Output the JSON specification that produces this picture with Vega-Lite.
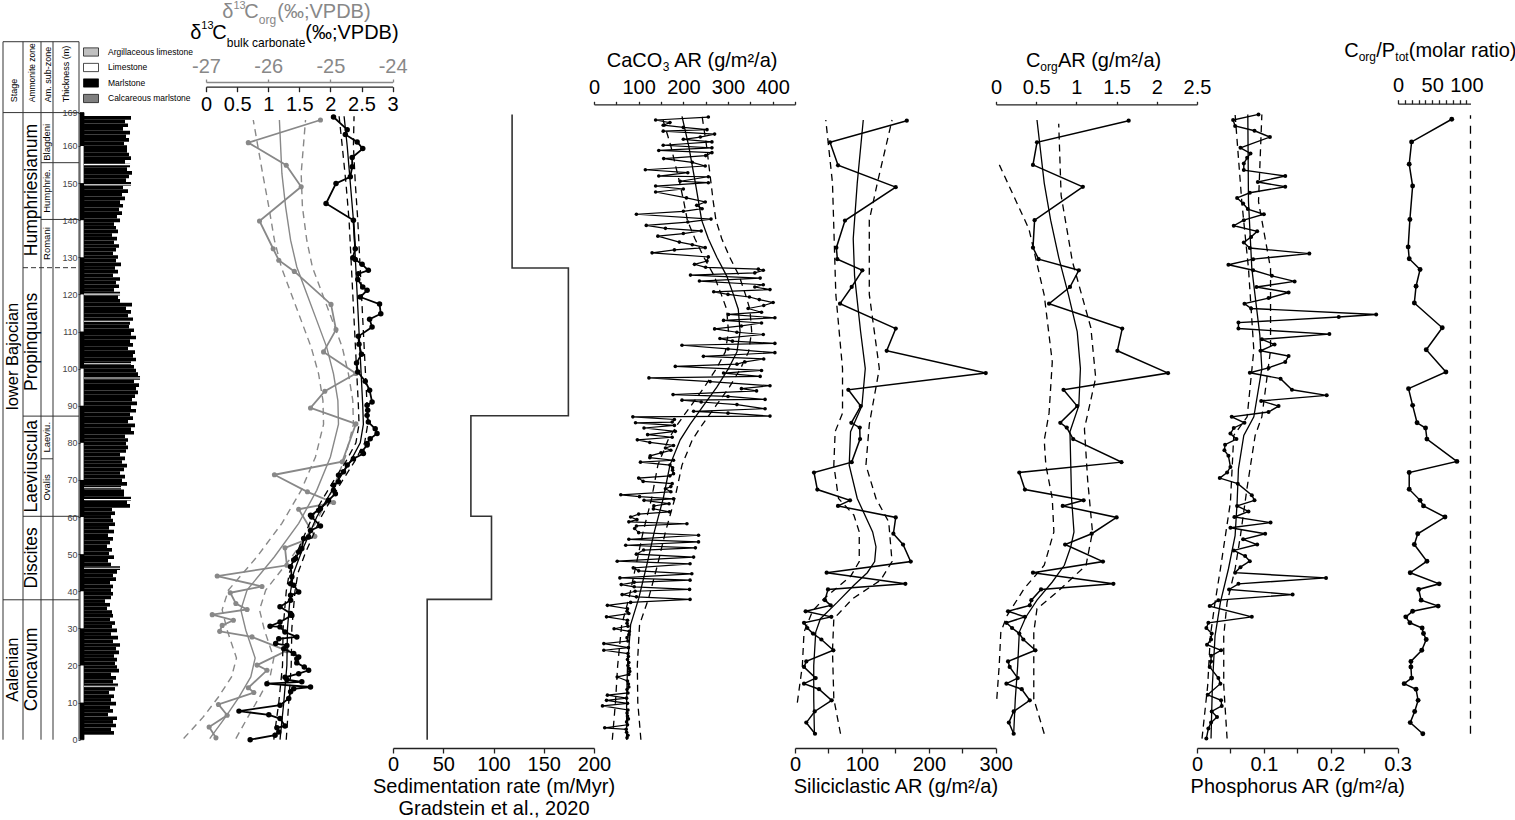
{
"$schema": "https://vega.github.io/schema/vega-lite/v6.json",
"padding": 0,
"background": "white",
"bounds": "flush",
"spacing": 0,
"config": {
  "view": {"stroke": null},
  "font": "Liberation Sans",
  "axis": {"labelFont": "Liberation Sans", "titleFont": "Liberation Sans", "labelFontSize": 20, "titleFontSize": 20, "titleFontWeight": "normal", "grid": false, "labelFlush": false, "labelOverlap": false, "domainColor": "#222", "tickColor": "#222", "labelColor": "#000", "titleColor": "#000", "domainWidth": 1.3, "tickWidth": 1.3},
  "text": {"font": "Liberation Sans"}
},
"datasets": {
  "litho": [
{"t0":0,"t1":1,"w":15,"lith":"Marlstone"},{"t0":1,"t1":2,"w":13.5,"lith":"Marlstone"},{"t0":2,"t1":3,"w":16,"lith":"Marlstone"},{"t0":3,"t1":4,"w":14.5,"lith":"Marlstone"},{"t0":4,"t1":5,"w":16.5,"lith":"Marlstone"},{"t0":5,"t1":6,"w":12,"lith":"Marlstone"},{"t0":6,"t1":7,"w":14.5,"lith":"Marlstone"},{"t0":7,"t1":8,"w":13,"lith":"Marlstone"},{"t0":8,"t1":9,"w":16,"lith":"Marlstone"},{"t0":9,"t1":10,"w":13.5,"lith":"Marlstone"},
{"t0":10,"t1":11,"w":15,"lith":"Marlstone"},{"t0":11,"t1":12,"w":12.5,"lith":"Marlstone"},{"t0":12,"t1":13,"w":15.5,"lith":"Marlstone"},{"t0":13,"t1":14,"w":17,"lith":"Marlstone"},{"t0":14,"t1":15,"w":14.5,"lith":"Marlstone"},{"t0":15,"t1":16,"w":16,"lith":"Marlstone"},{"t0":16,"t1":17,"w":13.5,"lith":"Marlstone"},{"t0":17,"t1":18,"w":17.5,"lith":"Marlstone"},{"t0":18,"t1":19,"w":16.5,"lith":"Marlstone"},{"t0":19,"t1":20,"w":15.5,"lith":"Marlstone"},
{"t0":20,"t1":21,"w":16.5,"lith":"Marlstone"},{"t0":21,"t1":22,"w":15,"lith":"Marlstone"},{"t0":22,"t1":23,"w":17.5,"lith":"Marlstone"},{"t0":23,"t1":24,"w":16,"lith":"Marlstone"},{"t0":24,"t1":25,"w":18,"lith":"Marlstone"},{"t0":25,"t1":26,"w":14.5,"lith":"Marlstone"},{"t0":26,"t1":27,"w":17,"lith":"Marlstone"},{"t0":27,"t1":28,"w":13.5,"lith":"Marlstone"},{"t0":28,"t1":29,"w":16.5,"lith":"Marlstone"},{"t0":29,"t1":30,"w":14,"lith":"Marlstone"},
{"t0":30,"t1":31,"w":15.5,"lith":"Marlstone"},{"t0":31,"t1":32,"w":13,"lith":"Marlstone"},{"t0":32,"t1":33,"w":14.5,"lith":"Marlstone"},{"t0":33,"t1":34,"w":14,"lith":"Marlstone"},{"t0":34,"t1":35,"w":11.5,"lith":"Marlstone"},{"t0":35,"t1":36,"w":13,"lith":"Marlstone"},{"t0":36,"t1":37,"w":10.5,"lith":"Marlstone"},{"t0":37,"t1":38,"w":13.5,"lith":"Marlstone"},{"t0":38,"t1":39,"w":14.5,"lith":"Marlstone"},{"t0":39,"t1":40,"w":13.5,"lith":"Marlstone"},
{"t0":40,"t1":41,"w":14.5,"lith":"Marlstone"},{"t0":41,"t1":42,"w":13,"lith":"Marlstone"},{"t0":42,"t1":43,"w":16,"lith":"Marlstone"},{"t0":43,"t1":44,"w":14.5,"lith":"Marlstone"},{"t0":44,"t1":45,"w":16.5,"lith":"Marlstone"},{"t0":45,"t1":46,"w":18,"lith":"Marlstone"},{"t0":46,"t1":47,"w":13.5,"lith":"Marlstone"},{"t0":47,"t1":48,"w":12,"lith":"Marlstone"},{"t0":48,"t1":49,"w":15,"lith":"Marlstone"},{"t0":49,"t1":50,"w":12.5,"lith":"Marlstone"},
{"t0":50,"t1":51,"w":14,"lith":"Marlstone"},{"t0":51,"t1":52,"w":11.5,"lith":"Marlstone"},{"t0":52,"t1":53,"w":13,"lith":"Marlstone"},{"t0":53,"t1":54,"w":14.5,"lith":"Marlstone"},{"t0":54,"t1":55,"w":12,"lith":"Marlstone"},{"t0":55,"t1":56,"w":15,"lith":"Marlstone"},{"t0":56,"t1":57,"w":12.5,"lith":"Marlstone"},{"t0":57,"t1":58,"w":15.5,"lith":"Marlstone"},{"t0":58,"t1":59,"w":14.5,"lith":"Marlstone"},{"t0":59,"t1":60,"w":13.5,"lith":"Marlstone"},
{"t0":60,"t1":61,"w":15.5,"lith":"Marlstone"},{"t0":61,"t1":62,"w":14,"lith":"Marlstone"},{"t0":62,"t1":63,"w":23,"lith":"Marlstone"},{"t0":63,"t1":64,"w":21.5,"lith":"Marlstone"},{"t0":64,"t1":65,"w":23.5,"lith":"Marlstone"},{"t0":65,"t1":66,"w":20,"lith":"Marlstone"},{"t0":66,"t1":67,"w":20,"lith":"Marlstone"},{"t0":67,"t1":68,"w":18.5,"lith":"Marlstone"},{"t0":68,"t1":69,"w":21.5,"lith":"Marlstone"},{"t0":69,"t1":70,"w":19,"lith":"Marlstone"},
{"t0":70,"t1":71,"w":20.5,"lith":"Marlstone"},{"t0":71,"t1":72,"w":18,"lith":"Marlstone"},{"t0":72,"t1":73,"w":20,"lith":"Marlstone"},{"t0":73,"t1":74,"w":21.5,"lith":"Marlstone"},{"t0":74,"t1":75,"w":19,"lith":"Marlstone"},{"t0":75,"t1":76,"w":20.5,"lith":"Marlstone"},{"t0":76,"t1":77,"w":18,"lith":"Marlstone"},{"t0":77,"t1":78,"w":21,"lith":"Marlstone"},{"t0":78,"t1":79,"w":22,"lith":"Marlstone"},{"t0":79,"t1":80,"w":21,"lith":"Marlstone"},
{"t0":80,"t1":81,"w":22,"lith":"Marlstone"},{"t0":81,"t1":82,"w":20.5,"lith":"Marlstone"},{"t0":82,"t1":83,"w":25,"lith":"Marlstone"},{"t0":83,"t1":84,"w":23.5,"lith":"Marlstone"},{"t0":84,"t1":85,"w":25.5,"lith":"Marlstone"},{"t0":85,"t1":86,"w":22,"lith":"Marlstone"},{"t0":86,"t1":87,"w":24.5,"lith":"Marlstone"},{"t0":87,"t1":88,"w":23,"lith":"Marlstone"},{"t0":88,"t1":89,"w":26,"lith":"Marlstone"},{"t0":89,"t1":90,"w":23.5,"lith":"Marlstone"},
{"t0":90,"t1":91,"w":26.5,"lith":"Marlstone"},{"t0":91,"t1":92,"w":24,"lith":"Marlstone"},{"t0":92,"t1":93,"w":25.5,"lith":"Marlstone"},{"t0":93,"t1":94,"w":27,"lith":"Marlstone"},{"t0":94,"t1":95,"w":26,"lith":"Marlstone"},{"t0":95,"t1":96,"w":27.5,"lith":"Marlstone"},{"t0":96,"t1":97,"w":25,"lith":"Marlstone"},{"t0":97,"t1":98,"w":28,"lith":"Marlstone"},{"t0":98,"t1":99,"w":27,"lith":"Marlstone"},{"t0":99,"t1":100,"w":26,"lith":"Marlstone"},
{"t0":100,"t1":101,"w":25,"lith":"Marlstone"},{"t0":101,"t1":102,"w":23.5,"lith":"Marlstone"},{"t0":102,"t1":103,"w":26,"lith":"Marlstone"},{"t0":103,"t1":104,"w":24.5,"lith":"Marlstone"},{"t0":104,"t1":105,"w":25.5,"lith":"Marlstone"},{"t0":105,"t1":106,"w":22,"lith":"Marlstone"},{"t0":106,"t1":107,"w":24.5,"lith":"Marlstone"},{"t0":107,"t1":108,"w":23,"lith":"Marlstone"},{"t0":108,"t1":109,"w":26,"lith":"Marlstone"},{"t0":109,"t1":110,"w":23.5,"lith":"Marlstone"},
{"t0":110,"t1":111,"w":25,"lith":"Marlstone"},{"t0":111,"t1":112,"w":22.5,"lith":"Marlstone"},{"t0":112,"t1":113,"w":23,"lith":"Marlstone"},{"t0":113,"t1":114,"w":24.5,"lith":"Marlstone"},{"t0":114,"t1":115,"w":22,"lith":"Marlstone"},{"t0":115,"t1":116,"w":23.5,"lith":"Marlstone"},{"t0":116,"t1":117,"w":21,"lith":"Marlstone"},{"t0":117,"t1":118,"w":24,"lith":"Marlstone"},{"t0":118,"t1":119,"w":18,"lith":"Marlstone"},{"t0":119,"t1":120,"w":17,"lith":"Marlstone"},
{"t0":120,"t1":121,"w":18,"lith":"Marlstone"},{"t0":121,"t1":122,"w":15,"lith":"Marlstone"},{"t0":122,"t1":123,"w":17.5,"lith":"Marlstone"},{"t0":123,"t1":124,"w":16,"lith":"Marlstone"},{"t0":124,"t1":125,"w":18,"lith":"Marlstone"},{"t0":125,"t1":126,"w":14.5,"lith":"Marlstone"},{"t0":126,"t1":127,"w":17,"lith":"Marlstone"},{"t0":127,"t1":128,"w":15.5,"lith":"Marlstone"},{"t0":128,"t1":129,"w":18.5,"lith":"Marlstone"},{"t0":129,"t1":130,"w":16,"lith":"Marlstone"},
{"t0":130,"t1":131,"w":17,"lith":"Marlstone"},{"t0":131,"t1":132,"w":14.5,"lith":"Marlstone"},{"t0":132,"t1":133,"w":16,"lith":"Marlstone"},{"t0":133,"t1":134,"w":17.5,"lith":"Marlstone"},{"t0":134,"t1":135,"w":15,"lith":"Marlstone"},{"t0":135,"t1":136,"w":16.5,"lith":"Marlstone"},{"t0":136,"t1":137,"w":14,"lith":"Marlstone"},{"t0":137,"t1":138,"w":17,"lith":"Marlstone"},{"t0":138,"t1":139,"w":16,"lith":"Marlstone"},{"t0":139,"t1":140,"w":15,"lith":"Marlstone"},
{"t0":140,"t1":141,"w":18,"lith":"Marlstone"},{"t0":141,"t1":142,"w":16.5,"lith":"Marlstone"},{"t0":142,"t1":143,"w":19,"lith":"Marlstone"},{"t0":143,"t1":144,"w":17.5,"lith":"Marlstone"},{"t0":144,"t1":145,"w":19.5,"lith":"Marlstone"},{"t0":145,"t1":146,"w":18,"lith":"Marlstone"},{"t0":146,"t1":147,"w":20.5,"lith":"Marlstone"},{"t0":147,"t1":148,"w":19,"lith":"Marlstone"},{"t0":148,"t1":149,"w":22,"lith":"Marlstone"},{"t0":149,"t1":150,"w":19.5,"lith":"Marlstone"},
{"t0":150,"t1":151,"w":23.5,"lith":"Marlstone"},{"t0":151,"t1":152,"w":21,"lith":"Marlstone"},{"t0":152,"t1":153,"w":22.5,"lith":"Marlstone"},{"t0":153,"t1":154,"w":24,"lith":"Marlstone"},{"t0":154,"t1":155,"w":21.5,"lith":"Marlstone"},{"t0":155,"t1":156,"w":23,"lith":"Marlstone"},{"t0":156,"t1":157,"w":20.5,"lith":"Marlstone"},{"t0":157,"t1":158,"w":23.5,"lith":"Marlstone"},{"t0":158,"t1":159,"w":22.5,"lith":"Marlstone"},{"t0":159,"t1":160,"w":21.5,"lith":"Marlstone"},
{"t0":160,"t1":161,"w":21.5,"lith":"Marlstone"},{"t0":161,"t1":162,"w":20,"lith":"Marlstone"},{"t0":162,"t1":163,"w":22.5,"lith":"Marlstone"},{"t0":163,"t1":164,"w":21,"lith":"Marlstone"},{"t0":164,"t1":165,"w":23,"lith":"Marlstone"},{"t0":165,"t1":166,"w":19.5,"lith":"Marlstone"},{"t0":166,"t1":167,"w":22,"lith":"Marlstone"},{"t0":167,"t1":168,"w":20.5,"lith":"Marlstone"},{"t0":168,"t1":169,"w":23.5,"lith":"Marlstone"},
{"t0":13.1,"t1":13.4,"w":17,"lith":"Limestone"},{"t0":45.3,"t1":45.6,"w":18,"lith":"Limestone"},{"t0":64.1,"t1":64.4,"w":23.5,"lith":"Limestone"},{"t0":67.3,"t1":67.6,"w":18.5,"lith":"Limestone"},{"t0":97.3,"t1":97.6,"w":28,"lith":"Limestone"},{"t0":101.2,"t1":101.5,"w":23.5,"lith":"Limestone"},{"t0":112.8,"t1":113.1,"w":24.5,"lith":"Limestone"},{"t0":120.2,"t1":120.5,"w":18,"lith":"Limestone"},{"t0":150.1,"t1":150.4,"w":23.5,"lith":"Limestone"},{"t0":155.6,"t1":155.9,"w":23,"lith":"Limestone"}
  ],
  "scalebar": [{"t0":0,"t1":10},{"t0":20,"t1":30},{"t0":40,"t1":50},{"t0":60,"t1":70},{"t0":80,"t1":90},{"t0":100,"t1":110},{"t0":120,"t1":130},{"t0":140,"t1":150},{"t0":160,"t1":169}],
  "bulk": [
{"t":0.0,"v":0.71},{"t":1.2,"v":1.11},{"t":2.1,"v":1.17},{"t":3.2,"v":1.14},{"t":3.7,"v":1.27},{"t":5.7,"v":1.19},{"t":6.7,"v":1.01},{"t":7.7,"v":0.53},{"t":9.3,"v":1.19},{"t":11.1,"v":1.33},
{"t":12.9,"v":1.36},{"t":13.7,"v":1.41},{"t":14.2,"v":1.68},{"t":15.1,"v":0.98},{"t":15.6,"v":1.54},{"t":16.2,"v":1.30},{"t":16.8,"v":1.27},{"t":17.8,"v":1.49},{"t":18.7,"v":1.65},{"t":19.6,"v":1.58},
{"t":20.7,"v":1.46},{"t":21.8,"v":1.46},{"t":22.3,"v":1.49},{"t":23.2,"v":1.41},{"t":24.5,"v":1.25},{"t":25.4,"v":1.30},{"t":25.9,"v":1.12},{"t":27.2,"v":1.17},{"t":27.7,"v":1.46},{"t":29.0,"v":1.27},
{"t":30.4,"v":1.19},{"t":30.6,"v":1.03},{"t":31.7,"v":1.19},{"t":33.5,"v":1.38},{"t":34.0,"v":1.36},{"t":35.8,"v":1.19},{"t":37.6,"v":1.36},{"t":38.9,"v":1.36},{"t":39.8,"v":1.49},{"t":41.6,"v":1.41},
{"t":42.0,"v":1.36},{"t":43.9,"v":1.38},{"t":46.6,"v":1.36},{"t":48.4,"v":1.41},{"t":48.8,"v":1.44},{"t":50.6,"v":1.49},{"t":51.5,"v":1.54},{"t":54.2,"v":1.57},{"t":54.6,"v":1.65},{"t":56.4,"v":1.68},
{"t":57.6,"v":1.84},{"t":60.0,"v":1.70},{"t":60.5,"v":1.68},{"t":61.8,"v":1.81},{"t":62.3,"v":1.84},{"t":64.5,"v":1.97},{"t":66.3,"v":2.08},{"t":67.2,"v":2.05},{"t":68.6,"v":2.05},{"t":69.5,"v":2.13},
{"t":71.3,"v":2.13},{"t":72.2,"v":2.21},{"t":74.0,"v":2.27},{"t":75.7,"v":2.37},{"t":77.1,"v":2.53},{"t":77.7,"v":2.51},{"t":79.4,"v":2.59},{"t":79.8,"v":2.59},{"t":81.1,"v":2.64},{"t":82.5,"v":2.75},
{"t":83.8,"v":2.72},{"t":85.6,"v":2.61},{"t":87.4,"v":2.59},{"t":88.8,"v":2.60},{"t":90.1,"v":2.59},{"t":91.0,"v":2.67},{"t":94.2,"v":2.63},{"t":96.6,"v":2.56},{"t":99.1,"v":2.44},{"t":101.5,"v":2.42},
{"t":103.9,"v":2.50},{"t":106.6,"v":2.46},{"t":108.7,"v":2.45},{"t":111.2,"v":2.67},{"t":113.3,"v":2.63},{"t":114.8,"v":2.81},{"t":117.4,"v":2.79},{"t":119.3,"v":2.48},{"t":121.1,"v":2.59},{"t":122.0,"v":2.52},
{"t":124.0,"v":2.44},{"t":125.6,"v":2.45},{"t":126.5,"v":2.61},{"t":128.1,"v":2.51},{"t":129.4,"v":2.40},{"t":129.9,"v":2.36},{"t":132.3,"v":2.40},{"t":140.0,"v":2.37},{"t":144.5,"v":1.93},{"t":149.9,"v":2.09},
{"t":151.7,"v":2.32},{"t":154.4,"v":2.35},{"t":156.9,"v":2.35},{"t":159.3,"v":2.52},{"t":161.1,"v":2.43},{"t":163.1,"v":2.24},{"t":164.4,"v":2.27},{"t":167.8,"v":2.05}
  ],
  "bulkfit": [
{"t":0,"kind":"fit","v":1.19},{"t":10,"kind":"fit","v":1.25},{"t":20,"kind":"fit","v":1.30},{"t":30,"kind":"fit","v":1.31},{"t":40,"kind":"fit","v":1.36},{"t":45,"kind":"fit","v":1.41},{"t":50,"kind":"fit","v":1.52},{"t":55,"kind":"fit","v":1.65},{"t":60,"kind":"fit","v":1.78},{"t":65,"kind":"fit","v":1.95},{"t":70,"kind":"fit","v":2.13},{"t":75,"kind":"fit","v":2.32},{"t":80,"kind":"fit","v":2.48},{"t":85,"kind":"fit","v":2.53},{"t":90,"kind":"fit","v":2.52},{"t":100,"kind":"fit","v":2.49},{"t":110,"kind":"fit","v":2.46},{"t":120,"kind":"fit","v":2.43},{"t":130,"kind":"fit","v":2.40},{"t":140,"kind":"fit","v":2.37},{"t":150,"kind":"fit","v":2.32},{"t":160,"kind":"fit","v":2.27},{"t":168,"kind":"fit","v":2.22},
{"t":0,"kind":"lo","v":1.09},{"t":10,"kind":"lo","v":1.17},{"t":20,"kind":"lo","v":1.23},{"t":30,"kind":"lo","v":1.24},{"t":40,"kind":"lo","v":1.29},{"t":45,"kind":"lo","v":1.34},{"t":50,"kind":"lo","v":1.45},{"t":55,"kind":"lo","v":1.58},{"t":60,"kind":"lo","v":1.71},{"t":65,"kind":"lo","v":1.88},{"t":70,"kind":"lo","v":2.06},{"t":75,"kind":"lo","v":2.25},{"t":80,"kind":"lo","v":2.41},{"t":85,"kind":"lo","v":2.46},{"t":90,"kind":"lo","v":2.45},{"t":100,"kind":"lo","v":2.42},{"t":110,"kind":"lo","v":2.39},{"t":120,"kind":"lo","v":2.36},{"t":130,"kind":"lo","v":2.33},{"t":140,"kind":"lo","v":2.30},{"t":150,"kind":"lo","v":2.25},{"t":160,"kind":"lo","v":2.19},{"t":168,"kind":"lo","v":2.14},
{"t":0,"kind":"hi","v":1.29},{"t":10,"kind":"hi","v":1.33},{"t":20,"kind":"hi","v":1.37},{"t":30,"kind":"hi","v":1.38},{"t":40,"kind":"hi","v":1.43},{"t":45,"kind":"hi","v":1.48},{"t":50,"kind":"hi","v":1.59},{"t":55,"kind":"hi","v":1.72},{"t":60,"kind":"hi","v":1.85},{"t":65,"kind":"hi","v":2.02},{"t":70,"kind":"hi","v":2.20},{"t":75,"kind":"hi","v":2.39},{"t":80,"kind":"hi","v":2.55},{"t":85,"kind":"hi","v":2.60},{"t":90,"kind":"hi","v":2.59},{"t":100,"kind":"hi","v":2.56},{"t":110,"kind":"hi","v":2.53},{"t":120,"kind":"hi","v":2.50},{"t":130,"kind":"hi","v":2.47},{"t":140,"kind":"hi","v":2.44},{"t":150,"kind":"hi","v":2.40},{"t":160,"kind":"hi","v":2.37},{"t":168,"kind":"hi","v":2.38}
  ],
  "org": [
{"t":0.5,"v":-26.84},{"t":3.4,"v":-26.95},{"t":6.6,"v":-26.66},{"t":9.5,"v":-26.80},{"t":12.7,"v":-26.23},{"t":14.0,"v":-26.32},{"t":18.7,"v":-26.02},{"t":20.1,"v":-26.18},{"t":24.0,"v":-25.70},{"t":27.7,"v":-26.26},
{"t":29.2,"v":-26.78},{"t":30.8,"v":-26.74},{"t":32.2,"v":-26.56},{"t":33.7,"v":-26.90},{"t":35.1,"v":-26.34},{"t":36.7,"v":-26.52},{"t":39.6,"v":-26.61},{"t":41.3,"v":-26.10},{"t":44.1,"v":-26.82},{"t":47.0,"v":-25.70},
{"t":51.7,"v":-25.73},{"t":54.8,"v":-25.25},{"t":62.1,"v":-25.51},{"t":63.9,"v":-24.95},{"t":66.8,"v":-25.37},{"t":71.4,"v":-25.90},{"t":74.9,"v":-24.81},{"t":85.1,"v":-24.59},{"t":89.4,"v":-25.32},{"t":93.9,"v":-25.09},
{"t":98.7,"v":-24.59},{"t":104.5,"v":-25.11},{"t":110.5,"v":-24.91},{"t":117.3,"v":-24.99},{"t":126.2,"v":-25.58},{"t":129.2,"v":-25.83},{"t":132.3,"v":-25.92},{"t":139.8,"v":-26.14},{"t":149.0,"v":-25.47},{"t":154.8,"v":-25.71},
{"t":160.9,"v":-26.32},{"t":167.0,"v":-25.16}
  ],
  "orgfit": [
{"t":0.3,"kind":"fit","v":-26.94},{"t":6,"kind":"fit","v":-26.69},{"t":11.5,"kind":"fit","v":-26.47},{"t":16.9,"kind":"fit","v":-26.28},{"t":22,"kind":"fit","v":-26.21},{"t":29.5,"kind":"fit","v":-26.36},{"t":35,"kind":"fit","v":-26.44},{"t":40.3,"kind":"fit","v":-26.34},{"t":49.3,"kind":"fit","v":-25.90},{"t":58.3,"kind":"fit","v":-25.51},{"t":67.2,"kind":"fit","v":-25.22},{"t":76.2,"kind":"fit","v":-25.00},{"t":85,"kind":"fit","v":-24.87},{"t":91.4,"kind":"fit","v":-24.88},{"t":98.6,"kind":"fit","v":-24.95},{"t":105.8,"kind":"fit","v":-25.06},{"t":113,"kind":"fit","v":-25.22},{"t":120.2,"kind":"fit","v":-25.38},{"t":127.4,"kind":"fit","v":-25.54},{"t":134.6,"kind":"fit","v":-25.64},{"t":143.6,"kind":"fit","v":-25.72},{"t":152.6,"kind":"fit","v":-25.78},{"t":167,"kind":"fit","v":-25.82},
{"t":0.3,"kind":"lo","v":-27.36},{"t":6,"kind":"lo","v":-27.05},{"t":11.5,"kind":"lo","v":-26.80},{"t":16.9,"kind":"lo","v":-26.59},{"t":22,"kind":"lo","v":-26.51},{"t":29.5,"kind":"lo","v":-26.66},{"t":35,"kind":"lo","v":-26.74},{"t":40.3,"kind":"lo","v":-26.64},{"t":49.3,"kind":"lo","v":-26.18},{"t":58.3,"kind":"lo","v":-25.78},{"t":67.2,"kind":"lo","v":-25.47},{"t":76.2,"kind":"lo","v":-25.24},{"t":85,"kind":"lo","v":-25.11},{"t":91.4,"kind":"lo","v":-25.12},{"t":98.6,"kind":"lo","v":-25.19},{"t":105.8,"kind":"lo","v":-25.31},{"t":113,"kind":"lo","v":-25.47},{"t":120.2,"kind":"lo","v":-25.63},{"t":127.4,"kind":"lo","v":-25.79},{"t":134.6,"kind":"lo","v":-25.90},{"t":143.6,"kind":"lo","v":-25.99},{"t":152.6,"kind":"lo","v":-26.09},{"t":167,"kind":"lo","v":-26.24},
{"t":0.3,"kind":"hi","v":-26.52},{"t":6,"kind":"hi","v":-26.33},{"t":11.5,"kind":"hi","v":-26.14},{"t":16.9,"kind":"hi","v":-25.97},{"t":22,"kind":"hi","v":-25.91},{"t":29.5,"kind":"hi","v":-26.06},{"t":35,"kind":"hi","v":-26.14},{"t":40.3,"kind":"hi","v":-26.04},{"t":49.3,"kind":"hi","v":-25.62},{"t":58.3,"kind":"hi","v":-25.24},{"t":67.2,"kind":"hi","v":-24.97},{"t":76.2,"kind":"hi","v":-24.76},{"t":85,"kind":"hi","v":-24.63},{"t":91.4,"kind":"hi","v":-24.64},{"t":98.6,"kind":"hi","v":-24.71},{"t":105.8,"kind":"hi","v":-24.81},{"t":113,"kind":"hi","v":-24.97},{"t":120.2,"kind":"hi","v":-25.13},{"t":127.4,"kind":"hi","v":-25.29},{"t":134.6,"kind":"hi","v":-25.38},{"t":143.6,"kind":"hi","v":-25.45},{"t":152.6,"kind":"hi","v":-25.47},{"t":167,"kind":"hi","v":-25.40}
  ],
  "sed": [{"t":0,"r":34},{"t":37.8,"r":98},{"t":60.2,"r":77.5},{"t":87.3,"r":174.5},{"t":127.1,"r":118.5},{"t":168.5,"r":118.5}],
  "ca": [
{"t":0.5,"v":74},{"t":1.2,"v":76},{"t":2.0,"v":73},{"t":2.8,"v":72},{"t":3.2,"v":24},{"t":4.0,"v":75},{"t":4.8,"v":73},{"t":5.6,"v":77},{"t":6.4,"v":75},{"t":7.2,"v":74},{"t":8.0,"v":76},{"t":9.1,"v":19},{"t":9.8,"v":75},{"t":10.6,"v":28},{"t":11.2,"v":73},{"t":12.0,"v":30},{"t":12.6,"v":76},{"t":13.5,"v":74},{"t":14.2,"v":78},{"t":15.0,"v":77},
{"t":15.8,"v":75},{"t":16.9,"v":52},{"t":17.6,"v":78},{"t":18.4,"v":80},{"t":19.2,"v":79},{"t":20.0,"v":76},{"t":20.8,"v":78},{"t":21.6,"v":75},{"t":22.4,"v":77},{"t":23.2,"v":76},{"t":24.1,"v":22},{"t":24.8,"v":77},{"t":25.9,"v":22},{"t":26.6,"v":76},{"t":27.5,"v":74},{"t":28.3,"v":78},{"t":29.2,"v":79},{"t":29.9,"v":45},{"t":30.6,"v":76},{"t":31.4,"v":74},
{"t":32.2,"v":75},{"t":33.1,"v":28},{"t":34.0,"v":78},{"t":34.6,"v":74},{"t":35.3,"v":75},{"t":36.2,"v":30},{"t":37.0,"v":82},{"t":37.8,"v":215},{"t":38.5,"v":95},{"t":39.1,"v":63},{"t":40.0,"v":92},{"t":40.5,"v":214},{"t":41.2,"v":90},{"t":41.8,"v":61},{"t":42.4,"v":90},{"t":43.0,"v":215},{"t":43.6,"v":58},{"t":44.7,"v":219},{"t":45.5,"v":100},{"t":46.3,"v":88},
{"t":47.4,"v":215},{"t":48.1,"v":52},{"t":49.2,"v":223},{"t":50.0,"v":95},{"t":51.1,"v":111},{"t":51.7,"v":227},{"t":52.4,"v":71},{"t":53.3,"v":234},{"t":54.0,"v":78},{"t":55.1,"v":234},{"t":55.8,"v":100},{"t":56.9,"v":91},{"t":57.6,"v":95},{"t":58.2,"v":208},{"t":58.7,"v":78},{"t":59.3,"v":96},{"t":60.0,"v":82},{"t":60.8,"v":100},{"t":61.4,"v":169},{"t":62.2,"v":133},
{"t":63.0,"v":134},{"t":63.6,"v":168},{"t":64.5,"v":112},{"t":64.9,"v":178},{"t":65.5,"v":102},{"t":66.0,"v":60},{"t":66.8,"v":172},{"t":67.6,"v":160},{"t":68.2,"v":172},{"t":69.0,"v":175},{"t":69.6,"v":110},{"t":70.5,"v":100},{"t":71.1,"v":170},{"t":71.7,"v":178},{"t":72.6,"v":176},{"t":73.3,"v":176},{"t":74.0,"v":170},{"t":74.8,"v":104},{"t":75.3,"v":178},{"t":76.0,"v":125},
{"t":76.5,"v":126},{"t":77.3,"v":150},{"t":78.0,"v":172},{"t":78.6,"v":160},{"t":79.3,"v":178},{"t":80.1,"v":125},{"t":80.8,"v":97},{"t":81.5,"v":175},{"t":82.2,"v":120},{"t":83.1,"v":182},{"t":84.0,"v":112},{"t":84.7,"v":180},{"t":85.4,"v":93},{"t":85.6,"v":175},{"t":86.3,"v":180},{"t":87.0,"v":87},{"t":87.2,"v":394},{"t":88.0,"v":300},{"t":88.5,"v":223},{"t":89.2,"v":383},
{"t":90.3,"v":320},{"t":91.0,"v":240},{"t":91.5,"v":197},{"t":91.7,"v":383},{"t":92.5,"v":300},{"t":93.0,"v":177},{"t":94.0,"v":364},{"t":94.6,"v":330},{"t":95.4,"v":394},{"t":96.5,"v":260},{"t":97.5,"v":123},{"t":97.9,"v":372},{"t":98.8,"v":290},{"t":99.5,"v":375},{"t":100.6,"v":182},{"t":101.2,"v":320},{"t":101.8,"v":338},{"t":102.6,"v":380},{"t":103.3,"v":245},{"t":104.3,"v":405},
{"t":105.3,"v":300},{"t":106.3,"v":197},{"t":106.8,"v":405},{"t":107.4,"v":310},{"t":108.1,"v":282},{"t":109.2,"v":379},{"t":109.8,"v":320},{"t":110.7,"v":270},{"t":111.5,"v":330},{"t":112.3,"v":375},{"t":113.0,"v":290},{"t":113.7,"v":405},{"t":114.6,"v":301},{"t":115.2,"v":375},{"t":116.2,"v":345},{"t":117.0,"v":380},{"t":117.8,"v":401},{"t":118.6,"v":370},{"t":119.3,"v":348},{"t":120.0,"v":300},
{"t":120.7,"v":268},{"t":121.3,"v":394},{"t":122.0,"v":360},{"t":122.6,"v":379},{"t":123.6,"v":236},{"t":124.4,"v":372},{"t":125.2,"v":216},{"t":125.8,"v":360},{"t":126.5,"v":379},{"t":126.8,"v":368},{"t":127.3,"v":250},{"t":128.1,"v":225},{"t":129.0,"v":253},{"t":130.1,"v":256},{"t":131.2,"v":130},{"t":132.0,"v":180},{"t":132.6,"v":249},{"t":133.4,"v":220},{"t":134.1,"v":191},{"t":135.7,"v":143},
{"t":136.4,"v":200},{"t":137.1,"v":240},{"t":137.8,"v":160},{"t":138.6,"v":117},{"t":139.5,"v":210},{"t":140.3,"v":262},{"t":141.6,"v":95},{"t":142.4,"v":200},{"t":143.1,"v":242},{"t":144.0,"v":230},{"t":144.9,"v":249},{"t":146.0,"v":207},{"t":147.6,"v":138},{"t":148.4,"v":200},{"t":149.2,"v":138},{"t":150.1,"v":256},{"t":150.5,"v":193},{"t":151.7,"v":256},{"t":151.9,"v":145},{"t":152.8,"v":210},
{"t":153.6,"v":115},{"t":154.6,"v":249},{"t":155.6,"v":220},{"t":156.6,"v":156},{"t":157.4,"v":250},{"t":158.2,"v":264},{"t":158.8,"v":145},{"t":159.5,"v":264},{"t":160.2,"v":155},{"t":161.1,"v":264},{"t":161.8,"v":200},{"t":162.4,"v":238},{"t":163.2,"v":270},{"t":164.0,"v":155},{"t":164.4,"v":253},{"t":165.0,"v":200},{"t":165.6,"v":155},{"t":166.3,"v":170},{"t":167.0,"v":138},{"t":167.8,"v":256}
  ],
  "cafit": [
{"t":0,"kind":"fit","v":73},{"t":10,"kind":"fit","v":73},{"t":20,"kind":"fit","v":75},{"t":31,"kind":"fit","v":82},{"t":38,"kind":"fit","v":100},{"t":47,"kind":"fit","v":118},{"t":56,"kind":"fit","v":135},{"t":65,"kind":"fit","v":155},{"t":74,"kind":"fit","v":170},{"t":80.8,"kind":"fit","v":193},{"t":85,"kind":"fit","v":215},{"t":90,"kind":"fit","v":245},{"t":95,"kind":"fit","v":275},{"t":100,"kind":"fit","v":301},{"t":104.5,"kind":"fit","v":320},{"t":110,"kind":"fit","v":327},{"t":116,"kind":"fit","v":323},{"t":120,"kind":"fit","v":312},{"t":125,"kind":"fit","v":297},{"t":130,"kind":"fit","v":275},{"t":135,"kind":"fit","v":256},{"t":140,"kind":"fit","v":241},{"t":145,"kind":"fit","v":234},{"t":150,"kind":"fit","v":227},{"t":160,"kind":"fit","v":212},{"t":168,"kind":"fit","v":197},
{"t":0,"kind":"lo","v":41},{"t":10,"kind":"lo","v":48},{"t":20,"kind":"lo","v":53},{"t":31,"kind":"lo","v":62},{"t":38,"kind":"lo","v":78},{"t":47,"kind":"lo","v":94},{"t":56,"kind":"lo","v":110},{"t":65,"kind":"lo","v":129},{"t":74,"kind":"lo","v":143},{"t":80.8,"kind":"lo","v":166},{"t":85,"kind":"lo","v":187},{"t":90,"kind":"lo","v":217},{"t":95,"kind":"lo","v":247},{"t":100,"kind":"lo","v":274},{"t":104.5,"kind":"lo","v":294},{"t":110,"kind":"lo","v":301},{"t":116,"kind":"lo","v":297},{"t":120,"kind":"lo","v":285},{"t":125,"kind":"lo","v":269},{"t":130,"kind":"lo","v":246},{"t":135,"kind":"lo","v":226},{"t":140,"kind":"lo","v":209},{"t":145,"kind":"lo","v":201},{"t":150,"kind":"lo","v":192},{"t":160,"kind":"lo","v":172},{"t":168,"kind":"lo","v":152},
{"t":0,"kind":"hi","v":105},{"t":10,"kind":"hi","v":98},{"t":20,"kind":"hi","v":97},{"t":31,"kind":"hi","v":102},{"t":38,"kind":"hi","v":122},{"t":47,"kind":"hi","v":142},{"t":56,"kind":"hi","v":160},{"t":65,"kind":"hi","v":181},{"t":74,"kind":"hi","v":197},{"t":80.8,"kind":"hi","v":220},{"t":85,"kind":"hi","v":243},{"t":90,"kind":"hi","v":273},{"t":95,"kind":"hi","v":303},{"t":100,"kind":"hi","v":328},{"t":104.5,"kind":"hi","v":346},{"t":110,"kind":"hi","v":353},{"t":116,"kind":"hi","v":349},{"t":120,"kind":"hi","v":339},{"t":125,"kind":"hi","v":325},{"t":130,"kind":"hi","v":304},{"t":135,"kind":"hi","v":286},{"t":140,"kind":"hi","v":273},{"t":145,"kind":"hi","v":267},{"t":150,"kind":"hi","v":262},{"t":160,"kind":"hi","v":252},{"t":168,"kind":"hi","v":242}
  ],
  "sil": [
{"t":1.6,"v":29.9},{"t":4.6,"v":16.9},{"t":7.6,"v":29.4},{"t":10.6,"v":54.8},{"t":13.6,"v":35.9},{"t":15.1,"v":13.5},{"t":16.6,"v":30.9},{"t":19.6,"v":13.5},{"t":21.1,"v":16.9},{"t":24.1,"v":57.3},{"t":27.0,"v":39.4},{"t":28.6,"v":26.9},{"t":30.1,"v":18.4},{"t":31.5,"v":13.5},{"t":33.1,"v":54.3},{"t":34.6,"v":15.9},
{"t":36.2,"v":53.3},{"t":37.6,"v":44.8},{"t":40.5,"v":49.3},{"t":42.0,"v":164.9},{"t":45.0,"v":47.3},{"t":48.0,"v":172.9},{"t":52.6,"v":161.4},{"t":55.5,"v":147},{"t":59.9,"v":150.5},{"t":63.0,"v":64.3},{"t":64.5,"v":82.2},{"t":67.4,"v":33.4},{"t":72.0,"v":28.4},{"t":74.8,"v":84.7},{"t":81.0,"v":97.2},{"t":84.1,"v":96.7},
{"t":85.4,"v":84.2},{"t":89.9,"v":98.2},{"t":94.3,"v":79.7},{"t":98.8,"v":285},{"t":104.8,"v":137},{"t":110.8,"v":150.5},{"t":117.5,"v":67.3},{"t":122.0,"v":84.7},{"t":126.5,"v":100.6},{"t":129.5,"v":63.3},{"t":132.6,"v":61.8},{"t":139.9,"v":74.7},{"t":148.9,"v":150.5},{"t":154.8,"v":64.3},{"t":161.0,"v":52.3},{"t":166.8,"v":167}
  ],
  "silfit": [
{"t":1.6,"kind":"fit","v":29},{"t":11,"kind":"fit","v":28},{"t":20,"kind":"fit","v":28},{"t":29,"kind":"fit","v":31},{"t":32.6,"kind":"fit","v":38},{"t":37,"kind":"fit","v":63},{"t":41.6,"kind":"fit","v":88},{"t":45,"kind":"fit","v":108},{"t":48,"kind":"fit","v":119},{"t":52,"kind":"fit","v":121},{"t":56,"kind":"fit","v":116},{"t":65,"kind":"fit","v":93},{"t":74,"kind":"fit","v":81},{"t":83,"kind":"fit","v":83},{"t":90,"kind":"fit","v":100},{"t":100,"kind":"fit","v":105},{"t":110,"kind":"fit","v":98},{"t":125,"kind":"fit","v":89},{"t":135,"kind":"fit","v":87},{"t":150,"kind":"fit","v":93},{"t":167,"kind":"fit","v":102},
{"t":10,"kind":"lo","v":3.5},{"t":20,"kind":"lo","v":11},{"t":29,"kind":"lo","v":13.5},{"t":34.6,"kind":"lo","v":26},{"t":38,"kind":"lo","v":43},{"t":44,"kind":"lo","v":83},{"t":48,"kind":"lo","v":96},{"t":56,"kind":"lo","v":96},{"t":60.5,"kind":"lo","v":88},{"t":65,"kind":"lo","v":65},{"t":74,"kind":"lo","v":58},{"t":83,"kind":"lo","v":60},{"t":88,"kind":"lo","v":71},{"t":100,"kind":"lo","v":71},{"t":120,"kind":"lo","v":61},{"t":150,"kind":"lo","v":56},{"t":167,"kind":"lo","v":46},
{"t":1.6,"kind":"hi","v":68},{"t":11,"kind":"hi","v":58},{"t":24,"kind":"hi","v":56},{"t":32.6,"kind":"hi","v":58},{"t":38,"kind":"hi","v":86},{"t":43,"kind":"hi","v":128},{"t":48,"kind":"hi","v":145},{"t":58.7,"kind":"hi","v":140},{"t":65,"kind":"hi","v":121},{"t":74,"kind":"hi","v":106},{"t":85,"kind":"hi","v":111},{"t":100,"kind":"hi","v":126},{"t":120,"kind":"hi","v":111},{"t":140,"kind":"hi","v":111},{"t":150,"kind":"hi","v":123},{"t":167,"kind":"hi","v":145}
  ],
  "corg": [
{"t":1.6,"v":0.22},{"t":4.6,"v":0.16},{"t":7.6,"v":0.22},{"t":10.6,"v":0.42},{"t":13.6,"v":0.32},{"t":15.1,"v":0.13},{"t":16.6,"v":0.27},{"t":19.6,"v":0.17},{"t":21.1,"v":0.15},{"t":24.1,"v":0.49},{"t":27.0,"v":0.34},{"t":28.6,"v":0.29},{"t":30.1,"v":0.20},{"t":31.5,"v":0.13},{"t":33.1,"v":0.36},{"t":34.6,"v":0.15},
{"t":36.2,"v":0.42},{"t":37.6,"v":0.44},{"t":40.5,"v":0.56},{"t":42.0,"v":1.46},{"t":45.0,"v":0.46},{"t":48.0,"v":1.33},{"t":52.6,"v":0.86},{"t":55.5,"v":1.19},{"t":59.9,"v":1.50},{"t":63.0,"v":0.83},{"t":64.5,"v":1.09},{"t":67.4,"v":0.36},{"t":72.0,"v":0.29},{"t":74.8,"v":1.56},{"t":81.0,"v":0.96},{"t":84.1,"v":0.88},
{"t":85.4,"v":0.80},{"t":89.9,"v":1.01},{"t":94.3,"v":0.84},{"t":98.8,"v":2.14},{"t":104.8,"v":1.51},{"t":110.8,"v":1.57},{"t":117.5,"v":0.66},{"t":122.0,"v":0.92},{"t":126.5,"v":1.03},{"t":129.5,"v":0.53},{"t":132.6,"v":0.46},{"t":140.0,"v":0.48},{"t":149.0,"v":1.08},{"t":154.9,"v":0.46},{"t":161.0,"v":0.51},{"t":166.8,"v":1.65}
  ],
  "corgfit": [
{"t":1.6,"kind":"fit","v":0.22},{"t":11,"kind":"fit","v":0.24},{"t":20,"kind":"fit","v":0.27},{"t":29,"kind":"fit","v":0.29},{"t":33,"kind":"fit","v":0.37},{"t":37.6,"kind":"fit","v":0.51},{"t":42.5,"kind":"fit","v":0.70},{"t":47,"kind":"fit","v":0.85},{"t":52,"kind":"fit","v":0.93},{"t":56,"kind":"fit","v":0.97},{"t":65,"kind":"fit","v":0.94},{"t":74,"kind":"fit","v":0.93},{"t":83,"kind":"fit","v":0.92},{"t":90,"kind":"fit","v":1.03},{"t":100,"kind":"fit","v":1.05},{"t":110,"kind":"fit","v":1.01},{"t":120,"kind":"fit","v":0.90},{"t":130,"kind":"fit","v":0.78},{"t":140,"kind":"fit","v":0.68},{"t":150,"kind":"fit","v":0.60},{"t":167,"kind":"fit","v":0.51},
{"t":11,"kind":"lo","v":0.01},{"t":20,"kind":"lo","v":0.04},{"t":29,"kind":"lo","v":0.06},{"t":33.5,"kind":"lo","v":0.14},{"t":40.7,"kind":"lo","v":0.35},{"t":47,"kind":"lo","v":0.60},{"t":56,"kind":"lo","v":0.72},{"t":65,"kind":"lo","v":0.70},{"t":74,"kind":"lo","v":0.62},{"t":80.7,"kind":"lo","v":0.60},{"t":88,"kind":"lo","v":0.66},{"t":101.8,"kind":"lo","v":0.70},{"t":119.8,"kind":"lo","v":0.60},{"t":137.6,"kind":"lo","v":0.41},{"t":155,"kind":"lo","v":0.04},
{"t":1.6,"kind":"hi","v":0.60},{"t":11,"kind":"hi","v":0.47},{"t":29,"kind":"hi","v":0.47},{"t":35.3,"kind":"hi","v":0.51},{"t":39.8,"kind":"hi","v":0.76},{"t":47,"kind":"hi","v":1.12},{"t":56,"kind":"hi","v":1.20},{"t":70,"kind":"hi","v":1.14},{"t":83.8,"kind":"hi","v":1.10},{"t":97.5,"kind":"hi","v":1.24},{"t":111,"kind":"hi","v":1.18},{"t":128.9,"kind":"hi","v":0.95},{"t":146.7,"kind":"hi","v":0.81},{"t":166,"kind":"hi","v":0.78}
  ],
  "phos": [
{"t":0.3,"v":0.014},{"t":3.0,"v":0.017},{"t":4.6,"v":0.021},{"t":6.1,"v":0.030},{"t":7.6,"v":0.022},{"t":9.1,"v":0.037},{"t":10.6,"v":0.036},{"t":12.1,"v":0.016},{"t":15.1,"v":0.035},{"t":16.6,"v":0.032},{"t":19.6,"v":0.019},{"t":21.1,"v":0.021},{"t":22.6,"v":0.021},{"t":24.1,"v":0.036},{"t":25.6,"v":0.015},{"t":27.0,"v":0.021},{"t":28.6,"v":0.022},{"t":30.1,"v":0.014},{"t":31.5,"v":0.017},{"t":33.1,"v":0.082},
{"t":36.0,"v":0.019},{"t":37.6,"v":0.032},{"t":39.1,"v":0.143},{"t":40.5,"v":0.048},{"t":42.0,"v":0.062},{"t":43.6,"v":0.193},{"t":45.0,"v":0.057},{"t":46.5,"v":0.065},{"t":48.1,"v":0.079},{"t":49.5,"v":0.072},{"t":51.0,"v":0.055},{"t":52.6,"v":0.090},{"t":54.0,"v":0.069},{"t":55.5,"v":0.102},{"t":57.1,"v":0.050},{"t":58.5,"v":0.110},{"t":60.0,"v":0.056},{"t":61.5,"v":0.077},{"t":63.0,"v":0.060},{"t":64.5,"v":0.086},
{"t":65.9,"v":0.082},{"t":69.0,"v":0.061},{"t":70.5,"v":0.034},{"t":72.0,"v":0.045},{"t":73.5,"v":0.050},{"t":76.5,"v":0.047},{"t":78.0,"v":0.041},{"t":79.5,"v":0.042},{"t":81.0,"v":0.059},{"t":82.5,"v":0.050},{"t":84.0,"v":0.055},{"t":85.4,"v":0.071},{"t":87.0,"v":0.052},{"t":88.3,"v":0.107},{"t":89.9,"v":0.122},{"t":91.3,"v":0.096},{"t":92.8,"v":0.194},{"t":94.3,"v":0.142},{"t":97.3,"v":0.125},{"t":98.9,"v":0.079},
{"t":100.2,"v":0.107},{"t":101.8,"v":0.132},{"t":103.4,"v":0.137},{"t":104.8,"v":0.095},{"t":106.5,"v":0.116},{"t":107.9,"v":0.097},{"t":109.3,"v":0.198},{"t":110.8,"v":0.062},{"t":112.4,"v":0.062},{"t":113.9,"v":0.212},{"t":114.6,"v":0.268},{"t":116.2,"v":0.081},{"t":117.5,"v":0.071},{"t":119.0,"v":0.107},{"t":120.5,"v":0.137},{"t":122.0,"v":0.089},{"t":123.5,"v":0.146},{"t":125.0,"v":0.112},{"t":126.5,"v":0.084},{"t":128.0,"v":0.047},
{"t":129.5,"v":0.084},{"t":131.0,"v":0.168},{"t":132.5,"v":0.079},{"t":134.0,"v":0.070},{"t":135.5,"v":0.081},{"t":137.0,"v":0.090},{"t":138.5,"v":0.055},{"t":140.0,"v":0.070},{"t":141.6,"v":0.100},{"t":143.0,"v":0.076},{"t":144.5,"v":0.069},{"t":146.0,"v":0.060},{"t":147.4,"v":0.079},{"t":149.0,"v":0.132},{"t":150.3,"v":0.091},{"t":151.9,"v":0.132},{"t":153.5,"v":0.070},{"t":155.3,"v":0.070},{"t":156.8,"v":0.075},{"t":158.0,"v":0.080},
{"t":159.5,"v":0.065},{"t":162.4,"v":0.109},{"t":164.1,"v":0.086},{"t":165.4,"v":0.057},{"t":167.0,"v":0.054},{"t":168.5,"v":0.092}
  ],
  "phosfit": [
{"t":0.3,"kind":"fit","v":0.021},{"t":14.6,"kind":"fit","v":0.023},{"t":28,"kind":"fit","v":0.027},{"t":37,"kind":"fit","v":0.035},{"t":46,"kind":"fit","v":0.047},{"t":55,"kind":"fit","v":0.057},{"t":64,"kind":"fit","v":0.060},{"t":73,"kind":"fit","v":0.062},{"t":82,"kind":"fit","v":0.070},{"t":87,"kind":"fit","v":0.085},{"t":100,"kind":"fit","v":0.097},{"t":109,"kind":"fit","v":0.094},{"t":127,"kind":"fit","v":0.082},{"t":145,"kind":"fit","v":0.077},{"t":168.5,"kind":"fit","v":0.076},
{"t":0.3,"kind":"lo","v":0.0075},{"t":14.6,"kind":"lo","v":0.016},{"t":28,"kind":"lo","v":0.020},{"t":37,"kind":"lo","v":0.027},{"t":46,"kind":"lo","v":0.035},{"t":64,"kind":"lo","v":0.050},{"t":82,"kind":"lo","v":0.055},{"t":87,"kind":"lo","v":0.075},{"t":105,"kind":"lo","v":0.085},{"t":127,"kind":"lo","v":0.077},{"t":145,"kind":"lo","v":0.067},{"t":168.5,"kind":"lo","v":0.057},
{"t":0.3,"kind":"hi","v":0.045},{"t":14.6,"kind":"hi","v":0.040},{"t":28,"kind":"hi","v":0.040},{"t":37,"kind":"hi","v":0.045},{"t":46,"kind":"hi","v":0.057},{"t":55,"kind":"hi","v":0.065},{"t":68,"kind":"hi","v":0.075},{"t":82,"kind":"hi","v":0.087},{"t":87,"kind":"hi","v":0.097},{"t":105,"kind":"hi","v":0.110},{"t":127,"kind":"hi","v":0.110},{"t":145,"kind":"hi","v":0.092},{"t":168.5,"kind":"hi","v":0.097}
  ],
  "cp": [
{"t":1.6,"v":36.3},{"t":4.6,"v":17.9},{"t":7.6,"v":24.4},{"t":10.6,"v":29.4},{"t":13.6,"v":26.4},{"t":15.1,"v":9.0},{"t":16.6,"v":19.9},{"t":19.6,"v":18.9},{"t":21.1,"v":18.9},{"t":24.1,"v":34.8},{"t":27.0,"v":41.3},{"t":28.6,"v":37.3},{"t":30.1,"v":35.3},{"t":31.5,"v":17.4},{"t":33.1,"v":11.4},{"t":34.6,"v":21.4},
{"t":36.0,"v":58.7},{"t":37.6,"v":33.8},{"t":40.5,"v":30.3},{"t":42.0,"v":60.2},{"t":45.0,"v":17.9},{"t":48.1,"v":42.3},{"t":52.6,"v":23.9},{"t":55.5,"v":28.9},{"t":60.0,"v":68.7},{"t":63.0,"v":37.3},{"t":64.5,"v":32.3},{"t":67.5,"v":16.4},{"t":72.0,"v":16.4},{"t":75.0,"v":86.1},{"t":81.0,"v":42.3},{"t":84.0,"v":40.3},
{"t":85.4,"v":27.9},{"t":90.1,"v":21.4},{"t":94.6,"v":15.4},{"t":99.1,"v":70.1},{"t":105.1,"v":41.3},{"t":111.0,"v":64.7},{"t":117.7,"v":23.9},{"t":122.2,"v":26.4},{"t":126.7,"v":32.3},{"t":129.6,"v":16.4},{"t":132.8,"v":14.9},{"t":140.2,"v":17.4},{"t":149.2,"v":21.4},{"t":155.1,"v":16.4},{"t":161.1,"v":19.9},{"t":167.2,"v":78.6}
  ]
},
"hconcat": [
{
  "width": 84, "height": 737.7,
  "layer": [
    {"data": {"name": "scalebar"}, "mark": {"type": "rect", "fill": "#000"},
     "encoding": {"x": {"datum": 40, "type": "quantitative", "scale": {"domain": [0, 42], "nice": false, "zero": false}, "axis": null}, "x2": {"datum": 42},
       "y": {"field": "t0", "type": "quantitative", "scale": {"domain": [0, 198.8], "nice": false, "zero": false}, "title": null,
             "axis": {"orient": "left", "offset": -80, "values": [0,10,20,30,40,50,60,70,80,90,100,110,120,130,140,150,160,169], "tickCount": 50, "labelOverlap": false, "domain": false, "tickSize": 2, "tickColor": "#444", "tickWidth": 1, "labelFontSize": 9, "labelColor": "#444", "labelPadding": 1, "title": null}},
       "y2": {"field": "t1"}}},
    {"data": {"values": [{}]}, "mark": {"type": "rect", "fill": null, "stroke": "#000", "strokeWidth": 0.8},
     "encoding": {"x": {"datum": 40, "type": "quantitative", "axis": null}, "x2": {"datum": 42}, "y": {"datum": 0, "type": "quantitative", "title": null}, "y2": {"datum": 169}}},
    {"data": {"values": [{}]}, "mark": {"type": "rule", "stroke": "#333", "strokeWidth": 1},
     "encoding": {"x": {"datum": 1.5, "type": "quantitative", "axis": null}, "y": {"datum": 0, "type": "quantitative", "title": null}, "y2": {"datum": 188.1}}},
    {"data": {"values": [{}]}, "mark": {"type": "rule", "stroke": "#333", "strokeWidth": 1},
     "encoding": {"x": {"datum": 11.5, "type": "quantitative", "axis": null}, "y": {"datum": 0, "type": "quantitative", "title": null}, "y2": {"datum": 188.1}}},
    {"data": {"values": [{}]}, "mark": {"type": "rule", "stroke": "#333", "strokeWidth": 1},
     "encoding": {"x": {"datum": 20.5, "type": "quantitative", "axis": null}, "y": {"datum": 0, "type": "quantitative", "title": null}, "y2": {"datum": 188.1}}},
    {"data": {"values": [{}]}, "mark": {"type": "rule", "stroke": "#333", "strokeWidth": 1},
     "encoding": {"x": {"datum": 26.5, "type": "quantitative", "axis": null}, "y": {"datum": 0, "type": "quantitative", "title": null}, "y2": {"datum": 188.1}}},
    {"data": {"values": [{}]}, "mark": {"type": "rule", "stroke": "#333", "strokeWidth": 1},
     "encoding": {"x": {"datum": 39.5, "type": "quantitative", "axis": null}, "y": {"datum": 0, "type": "quantitative", "title": null}, "y2": {"datum": 188.1}}},
    {"data": {"values": [{"t": 37.7}, {"t": 169}, {"t": 188.1}]}, "mark": {"type": "rule", "stroke": "#333", "strokeWidth": 1},
     "encoding": {"x": {"datum": 1.5, "type": "quantitative", "axis": null}, "x2": {"datum": 39.5}, "y": {"field": "t", "type": "quantitative", "title": null}}},
    {"data": {"values": [{"t": 60.2}, {"t": 87.2}]}, "mark": {"type": "rule", "stroke": "#333", "strokeWidth": 1},
     "encoding": {"x": {"datum": 11.5, "type": "quantitative", "axis": null}, "x2": {"datum": 39.5}, "y": {"field": "t", "type": "quantitative", "title": null}}},
    {"data": {"values": [{"t": 127.2}]}, "mark": {"type": "rule", "stroke": "#333", "strokeWidth": 1, "strokeDash": [5, 3]},
     "encoding": {"x": {"datum": 11.5, "type": "quantitative", "axis": null}, "x2": {"datum": 39.5}, "y": {"field": "t", "type": "quantitative", "title": null}}},
    {"data": {"values": [{"t": 140.2}, {"t": 155.5}]}, "mark": {"type": "rule", "stroke": "#333", "strokeWidth": 1},
     "encoding": {"x": {"datum": 20.5, "type": "quantitative", "axis": null}, "x2": {"datum": 39.5}, "y": {"field": "t", "type": "quantitative", "title": null}}},
    {"data": {"values": [{"t": 75.7}]}, "mark": {"type": "rule", "stroke": "#333", "strokeWidth": 1},
     "encoding": {"x": {"datum": 20.5, "type": "quantitative", "axis": null}, "x2": {"datum": 26.5}, "y": {"field": "t", "type": "quantitative", "title": null}}},
    {"data": {"values": [{"name": "Aalenian", "mid": 18.9}, {"name": "lower Bajocian", "mid": 103.3}]},
     "mark": {"type": "text", "angle": 270, "fontSize": 16.5, "align": "center", "baseline": "middle"},
     "encoding": {"x": {"datum": 6.3, "type": "quantitative", "axis": null}, "y": {"field": "mid", "type": "quantitative", "title": null}, "text": {"field": "name", "type": "nominal"}}},
    {"data": {"values": [{"name": "Concavum", "mid": 18.9}, {"name": "Discites", "mid": 49}, {"name": "Laeviuscula", "mid": 73.7}, {"name": "Propinquans", "mid": 107.2}, {"name": "Humphriesianum", "mid": 148.1}]},
     "mark": {"type": "text", "angle": 270, "fontSize": 17.5, "align": "center", "baseline": "middle"},
     "encoding": {"x": {"datum": 15.9, "type": "quantitative", "axis": null}, "y": {"field": "mid", "type": "quantitative", "title": null}, "text": {"field": "name", "type": "nominal"}}},
    {"data": {"values": [{"name": "Ovalis", "mid": 68}, {"name": "Laeviu.", "mid": 81.5}, {"name": "Romani", "mid": 133.7}, {"name": "Humphrie.", "mid": 147.9}, {"name": "Blagdeni", "mid": 161}]},
     "mark": {"type": "text", "angle": 270, "fontSize": 9.5, "align": "center", "baseline": "middle"},
     "encoding": {"x": {"datum": 23.6, "type": "quantitative", "axis": null}, "y": {"field": "mid", "type": "quantitative", "title": null}, "text": {"field": "name", "type": "nominal"}}},
    {"data": {"values": [{"name": "Stage"}]},
     "mark": {"type": "text", "angle": 270, "fontSize": 9, "align": "left", "baseline": "middle"},
     "encoding": {"x": {"datum": 6.9, "type": "quantitative", "axis": null}, "y": {"datum": 171.8, "type": "quantitative", "title": null}, "text": {"field": "name", "type": "nominal"}}},
    {"data": {"values": [{"name": "Ammonite zone"}]},
     "mark": {"type": "text", "angle": 270, "fontSize": 8.5, "align": "left", "baseline": "middle"},
     "encoding": {"x": {"datum": 16, "type": "quantitative", "axis": null}, "y": {"datum": 171.8, "type": "quantitative", "title": null}, "text": {"field": "name", "type": "nominal"}}},
    {"data": {"values": [{"name": "Am. sub-zone"}]},
     "mark": {"type": "text", "angle": 270, "fontSize": 9, "align": "left", "baseline": "middle"},
     "encoding": {"x": {"datum": 24, "type": "quantitative", "axis": null}, "y": {"datum": 171.8, "type": "quantitative", "title": null}, "text": {"field": "name", "type": "nominal"}}},
    {"data": {"values": [{"name": "Thickness (m)"}]},
     "mark": {"type": "text", "angle": 270, "fontSize": 9, "align": "left", "baseline": "middle"},
     "encoding": {"x": {"datum": 32.9, "type": "quantitative", "axis": null}, "y": {"datum": 171.8, "type": "quantitative", "title": null}, "text": {"field": "name", "type": "nominal"}}}
  ]
},
{
  "width": 121.7, "height": 737.7,
  "data": {"name": "litho"},
  "mark": {"type": "bar", "orient": "horizontal"},
  "encoding": {
    "x": {"field": "w", "type": "quantitative", "stack": null, "scale": {"domain": [0, 60.85], "nice": false, "zero": true}, "axis": null},
    "y": {"field": "t0", "type": "quantitative", "scale": {"domain": [0, 198.8], "nice": false, "zero": false}, "axis": null},
    "y2": {"field": "t1"},
    "color": {"field": "lith", "type": "nominal",
              "scale": {"domain": ["Argillaceous limestone", "Limestone", "Marlstone", "Calcareous marlstone"], "range": ["#c0c0c0", "#ffffff", "#000000", "#7f7f7f"]},
              "legend": {"orient": "none", "legendX": 83, "legendY": 42, "title": null, "symbolType": "M-1,-0.55H1V0.55H-1Z", "symbolSize": 225, "symbolStrokeColor": "#000", "symbolStrokeWidth": 0.7, "symbolOpacity": 1, "labelFontSize": 8.5, "labelFont": "Liberation Sans", "labelOffset": 9, "rowPadding": 1.5, "padding": 0}}
  }
},
{
  "width": 186.6, "height": 737.7,
  "resolve": {"scale": {"x": "independent"}},
  "layer": [
    {"data": {"name": "orgfit"}, "transform": [{"filter": "datum.kind != 'fit'"}],
     "mark": {"type": "line", "stroke": "#888", "strokeWidth": 1.4, "strokeDash": [7, 5]},
     "encoding": {
       "x": {"field": "v", "type": "quantitative", "title": null, "scale": {"domain": [-27, -24], "nice": false, "zero": false},
             "axis": {"orient": "top", "offset": -80, "values": [-27, -26, -25, -24], "tickCount": 50, "labelOverlap": false, "labelExpr": "datum.value < 0 ? '-' + abs(datum.value) : datum.label", "tickSize": 3, "labelPadding": 2, "labelColor": "#888", "domainColor": "#888", "tickColor": "#888", "title": null}},
       "y": {"field": "t", "type": "quantitative", "scale": {"domain": [0, 198.8], "nice": false, "zero": false}, "axis": null},
       "detail": {"field": "kind", "type": "nominal"},
       "order": {"field": "t", "type": "quantitative"}
     }},
    {"data": {"name": "orgfit"}, "transform": [{"filter": "datum.kind == 'fit'"}],
     "mark": {"type": "line", "stroke": "#888", "strokeWidth": 1.4},
     "encoding": {"x": {"field": "v", "type": "quantitative", "title": null, "scale": {"domain": [-27, -24], "nice": false, "zero": false}, "axis": null}, "y": {"field": "t", "type": "quantitative", "axis": null}, "order": {"field": "t", "type": "quantitative"}}},
    {"data": {"name": "org"}, "mark": {"type": "line", "stroke": "#888", "strokeWidth": 1.8},
     "encoding": {"x": {"field": "v", "type": "quantitative", "title": null, "scale": {"domain": [-27, -24], "nice": false, "zero": false}, "axis": null}, "y": {"field": "t", "type": "quantitative", "axis": null}, "order": {"field": "t", "type": "quantitative"}}},
    {"data": {"name": "org"}, "mark": {"type": "circle", "fill": "#888", "opacity": 1, "size": 26},
     "encoding": {"x": {"field": "v", "type": "quantitative", "title": null, "scale": {"domain": [-27, -24], "nice": false, "zero": false}, "axis": null}, "y": {"field": "t", "type": "quantitative", "axis": null}}},
    {"data": {"name": "bulkfit"}, "transform": [{"filter": "datum.kind != 'fit'"}],
     "mark": {"type": "line", "stroke": "#000", "strokeWidth": 1.3, "strokeDash": [7, 5]},
     "encoding": {
       "x": {"field": "v", "type": "quantitative", "title": null, "scale": {"domain": [0, 3], "nice": false, "zero": false},
             "axis": {"orient": "bottom", "offset": -653, "values": [0, 0.5, 1, 1.5, 2, 2.5, 3], "tickCount": 50, "labelOverlap": false, "format": "~g", "tickSize": 5, "labelPadding": 3, "title": null}},
       "y": {"field": "t", "type": "quantitative", "axis": null},
       "detail": {"field": "kind", "type": "nominal"},
       "order": {"field": "t", "type": "quantitative"}
     }},
    {"data": {"name": "bulkfit"}, "transform": [{"filter": "datum.kind == 'fit'"}],
     "mark": {"type": "line", "stroke": "#000", "strokeWidth": 1.3},
     "encoding": {"x": {"field": "v", "type": "quantitative", "title": null, "scale": {"domain": [0, 3], "nice": false, "zero": false}, "axis": null}, "y": {"field": "t", "type": "quantitative", "axis": null}, "order": {"field": "t", "type": "quantitative"}}},
    {"data": {"name": "bulk"}, "mark": {"type": "line", "stroke": "#000", "strokeWidth": 1.8},
     "encoding": {"x": {"field": "v", "type": "quantitative", "title": null, "scale": {"domain": [0, 3], "nice": false, "zero": false}, "axis": null}, "y": {"field": "t", "type": "quantitative", "axis": null}, "order": {"field": "t", "type": "quantitative"}}},
    {"data": {"name": "bulk"}, "mark": {"type": "circle", "fill": "#000", "opacity": 1, "size": 30},
     "encoding": {"x": {"field": "v", "type": "quantitative", "title": null, "scale": {"domain": [0, 3], "nice": false, "zero": false}, "axis": null}, "y": {"field": "t", "type": "quantitative", "axis": null}}},
    {"data": {"values": [{"s": "δ"}]}, "mark": {"type": "text", "fontSize": 20, "align": "left", "baseline": "alphabetic", "fill": "#888"},
     "encoding": {"x": {"datum": 0.262, "type": "quantitative", "scale": {"domain": [0, 3], "nice": false, "zero": false}, "axis": null}, "y": {"datum": 194.5, "type": "quantitative", "axis": null}, "text": {"field": "s", "type": "nominal"}}},
    {"data": {"values": [{"s": "13"}]}, "mark": {"type": "text", "fontSize": 11, "align": "left", "baseline": "alphabetic", "fill": "#888"},
     "encoding": {"x": {"datum": 0.44, "type": "quantitative", "scale": {"domain": [0, 3], "nice": false, "zero": false}, "axis": null}, "y": {"datum": 196.8, "type": "quantitative", "axis": null}, "text": {"field": "s", "type": "nominal"}}},
    {"data": {"values": [{"s": "C"}]}, "mark": {"type": "text", "fontSize": 20, "align": "left", "baseline": "alphabetic", "fill": "#888"},
     "encoding": {"x": {"datum": 0.616, "type": "quantitative", "scale": {"domain": [0, 3], "nice": false, "zero": false}, "axis": null}, "y": {"datum": 194.5, "type": "quantitative", "axis": null}, "text": {"field": "s", "type": "nominal"}}},
    {"data": {"values": [{"s": "org"}]}, "mark": {"type": "text", "fontSize": 12, "align": "left", "baseline": "alphabetic", "fill": "#888"},
     "encoding": {"x": {"datum": 0.849, "type": "quantitative", "scale": {"domain": [0, 3], "nice": false, "zero": false}, "axis": null}, "y": {"datum": 192.9, "type": "quantitative", "axis": null}, "text": {"field": "s", "type": "nominal"}}},
    {"data": {"values": [{"s": "(‰;VPDB)"}]}, "mark": {"type": "text", "fontSize": 20, "align": "left", "baseline": "alphabetic", "fill": "#888"},
     "encoding": {"x": {"datum": 1.146, "type": "quantitative", "scale": {"domain": [0, 3], "nice": false, "zero": false}, "axis": null}, "y": {"datum": 194.5, "type": "quantitative", "axis": null}, "text": {"field": "s", "type": "nominal"}}},
    {"data": {"values": [{"s": "δ"}]}, "mark": {"type": "text", "fontSize": 20, "align": "left", "baseline": "alphabetic", "fill": "#000"},
     "encoding": {"x": {"datum": -0.252, "type": "quantitative", "scale": {"domain": [0, 3], "nice": false, "zero": false}, "axis": null}, "y": {"datum": 188.7, "type": "quantitative", "axis": null}, "text": {"field": "s", "type": "nominal"}}},
    {"data": {"values": [{"s": "13"}]}, "mark": {"type": "text", "fontSize": 11, "align": "left", "baseline": "alphabetic", "fill": "#000"},
     "encoding": {"x": {"datum": -0.076, "type": "quantitative", "scale": {"domain": [0, 3], "nice": false, "zero": false}, "axis": null}, "y": {"datum": 191.5, "type": "quantitative", "axis": null}, "text": {"field": "s", "type": "nominal"}}},
    {"data": {"values": [{"s": "C"}]}, "mark": {"type": "text", "fontSize": 20, "align": "left", "baseline": "alphabetic", "fill": "#000"},
     "encoding": {"x": {"datum": 0.101, "type": "quantitative", "scale": {"domain": [0, 3], "nice": false, "zero": false}, "axis": null}, "y": {"datum": 188.7, "type": "quantitative", "axis": null}, "text": {"field": "s", "type": "nominal"}}},
    {"data": {"values": [{"s": "bulk carbonate"}]}, "mark": {"type": "text", "fontSize": 12, "align": "left", "baseline": "alphabetic", "fill": "#000"},
     "encoding": {"x": {"datum": 0.333, "type": "quantitative", "scale": {"domain": [0, 3], "nice": false, "zero": false}, "axis": null}, "y": {"datum": 186.7, "type": "quantitative", "axis": null}, "text": {"field": "s", "type": "nominal"}}},
    {"data": {"values": [{"s": "(‰;VPDB)"}]}, "mark": {"type": "text", "fontSize": 20, "align": "left", "baseline": "alphabetic", "fill": "#000"},
     "encoding": {"x": {"datum": 1.596, "type": "quantitative", "scale": {"domain": [0, 3], "nice": false, "zero": false}, "axis": null}, "y": {"datum": 188.7, "type": "quantitative", "axis": null}, "text": {"field": "s", "type": "nominal"}}}
  ]
},
{
  "width": 201, "height": 737.7,
  "data": {"name": "sed"},
  "mark": {"type": "line", "interpolate": "step-before", "stroke": "#333", "strokeWidth": 1.6},
  "encoding": {
    "x": {"field": "r", "type": "quantitative", "scale": {"domain": [0, 200], "nice": false, "zero": false},
          "axis": {"orient": "bottom", "offset": 8.3, "values": [0, 50, 100, 150, 200], "tickCount": 50, "labelOverlap": false, "tickSize": 5, "labelPadding": 2, "title": ["Sedimentation rate (m/Myr)", "Gradstein et al., 2020"], "titlePadding": 2, "titleLineHeight": 22}},
    "y": {"field": "t", "type": "quantitative", "scale": {"domain": [0, 198.8], "nice": false, "zero": false}, "axis": null},
    "order": {"field": "t", "type": "quantitative"}
  }
},
{
  "width": 201, "height": 737.7,
  "layer": [
    {"data": {"name": "cafit"}, "transform": [{"filter": "datum.kind != 'fit'"}],
     "mark": {"type": "line", "stroke": "#000", "strokeWidth": 1.3, "strokeDash": [7, 5]},
     "encoding": {
       "x": {"field": "v", "type": "quantitative", "title": null, "scale": {"domain": [0, 450], "nice": false, "zero": false},
             "axis": {"orient": "top", "offset": -102.3, "values": [0, 50, 100, 150, 200, 250, 300, 350, 400, 450], "tickCount": 50, "labelOverlap": false, "labelExpr": "datum.value % 100 === 0 ? datum.label : ''", "tickSize": 3, "labelPadding": 4, "title": null}},
       "y": {"field": "t", "type": "quantitative", "scale": {"domain": [0, 198.8], "nice": false, "zero": false}, "axis": null},
       "detail": {"field": "kind", "type": "nominal"},
       "order": {"field": "t", "type": "quantitative"}
     }},
    {"data": {"name": "cafit"}, "transform": [{"filter": "datum.kind == 'fit'"}],
     "mark": {"type": "line", "stroke": "#000", "strokeWidth": 1.3},
     "encoding": {"x": {"field": "v", "type": "quantitative", "title": null}, "y": {"field": "t", "type": "quantitative", "axis": null}, "order": {"field": "t", "type": "quantitative"}}},
    {"data": {"name": "ca"}, "mark": {"type": "line", "stroke": "#000", "strokeWidth": 1.2},
     "encoding": {"x": {"field": "v", "type": "quantitative", "title": null}, "y": {"field": "t", "type": "quantitative", "axis": null}, "order": {"field": "t", "type": "quantitative"}}},
    {"data": {"name": "ca"}, "mark": {"type": "circle", "fill": "#000", "opacity": 1, "size": 13},
     "encoding": {"x": {"field": "v", "type": "quantitative", "title": null}, "y": {"field": "t", "type": "quantitative", "axis": null}}},
    {"data": {"values": [{"s": "CaCO"}]}, "mark": {"type": "text", "fontSize": 20, "align": "left", "baseline": "alphabetic"},
     "encoding": {"x": {"datum": 28.5, "type": "quantitative", "title": null}, "y": {"datum": 181.3, "type": "quantitative", "axis": null}, "text": {"field": "s", "type": "nominal"}}},
    {"data": {"values": [{"s": "3"}]}, "mark": {"type": "text", "fontSize": 12, "align": "left", "baseline": "alphabetic"},
     "encoding": {"x": {"datum": 153.8, "type": "quantitative", "title": null}, "y": {"datum": 180.2, "type": "quantitative", "axis": null}, "text": {"field": "s", "type": "nominal"}}},
    {"data": {"values": [{"s": "AR (g/m²/a)"}]}, "mark": {"type": "text", "fontSize": 20, "align": "left", "baseline": "alphabetic"},
     "encoding": {"x": {"datum": 179.5, "type": "quantitative", "title": null}, "y": {"datum": 181.3, "type": "quantitative", "axis": null}, "text": {"field": "s", "type": "nominal"}}}
  ]
},
{
  "width": 200.8, "height": 737.7,
  "layer": [
    {"data": {"name": "silfit"}, "transform": [{"filter": "datum.kind != 'fit'"}],
     "mark": {"type": "line", "stroke": "#000", "strokeWidth": 1.3, "strokeDash": [7, 5]},
     "encoding": {
       "x": {"field": "v", "type": "quantitative", "scale": {"domain": [0, 300], "nice": false, "zero": false},
             "axis": {"orient": "bottom", "offset": 8.3, "values": [0, 50, 100, 150, 200, 250, 300], "tickCount": 50, "labelOverlap": false, "labelExpr": "datum.value % 100 === 0 ? datum.label : ''", "tickSize": 5, "labelPadding": 2, "title": "Siliciclastic  AR (g/m²/a)", "titlePadding": 2}},
       "y": {"field": "t", "type": "quantitative", "scale": {"domain": [0, 198.8], "nice": false, "zero": false}, "axis": null},
       "detail": {"field": "kind", "type": "nominal"},
       "order": {"field": "t", "type": "quantitative"}
     }},
    {"data": {"name": "silfit"}, "transform": [{"filter": "datum.kind == 'fit'"}],
     "mark": {"type": "line", "stroke": "#000", "strokeWidth": 1.3},
     "encoding": {"x": {"field": "v", "type": "quantitative"}, "y": {"field": "t", "type": "quantitative", "axis": null}, "order": {"field": "t", "type": "quantitative"}}},
    {"data": {"name": "sil"}, "mark": {"type": "line", "stroke": "#000", "strokeWidth": 1.5},
     "encoding": {"x": {"field": "v", "type": "quantitative"}, "y": {"field": "t", "type": "quantitative", "axis": null}, "order": {"field": "t", "type": "quantitative"}}},
    {"data": {"name": "sil"}, "mark": {"type": "circle", "fill": "#000", "opacity": 1, "size": 18},
     "encoding": {"x": {"field": "v", "type": "quantitative"}, "y": {"field": "t", "type": "quantitative", "axis": null}}}
  ]
},
{
  "width": 201, "height": 737.7,
  "layer": [
    {"data": {"name": "corgfit"}, "transform": [{"filter": "datum.kind != 'fit'"}],
     "mark": {"type": "line", "stroke": "#000", "strokeWidth": 1.3, "strokeDash": [7, 5]},
     "encoding": {
       "x": {"field": "v", "type": "quantitative", "title": null, "scale": {"domain": [0, 2.5], "nice": false, "zero": false},
             "axis": {"orient": "top", "offset": -102.3, "values": [0, 0.5, 1, 1.5, 2, 2.5], "tickCount": 50, "labelOverlap": false, "format": "~g", "tickSize": 3, "labelPadding": 4, "title": null}},
       "y": {"field": "t", "type": "quantitative", "scale": {"domain": [0, 198.8], "nice": false, "zero": false}, "axis": null},
       "detail": {"field": "kind", "type": "nominal"},
       "order": {"field": "t", "type": "quantitative"}
     }},
    {"data": {"name": "corgfit"}, "transform": [{"filter": "datum.kind == 'fit'"}],
     "mark": {"type": "line", "stroke": "#000", "strokeWidth": 1.3},
     "encoding": {"x": {"field": "v", "type": "quantitative", "title": null}, "y": {"field": "t", "type": "quantitative", "axis": null}, "order": {"field": "t", "type": "quantitative"}}},
    {"data": {"name": "corg"}, "mark": {"type": "line", "stroke": "#000", "strokeWidth": 1.5},
     "encoding": {"x": {"field": "v", "type": "quantitative", "title": null}, "y": {"field": "t", "type": "quantitative", "axis": null}, "order": {"field": "t", "type": "quantitative"}}},
    {"data": {"name": "corg"}, "mark": {"type": "circle", "fill": "#000", "opacity": 1, "size": 18},
     "encoding": {"x": {"field": "v", "type": "quantitative", "title": null}, "y": {"field": "t", "type": "quantitative", "axis": null}}},
    {"data": {"values": [{"s": "C"}]}, "mark": {"type": "text", "fontSize": 20, "align": "left", "baseline": "alphabetic"},
     "encoding": {"x": {"datum": 0.372, "type": "quantitative", "title": null}, "y": {"datum": 181.3, "type": "quantitative", "axis": null}, "text": {"field": "s", "type": "nominal"}}},
    {"data": {"values": [{"s": "org"}]}, "mark": {"type": "text", "fontSize": 12, "align": "left", "baseline": "alphabetic"},
     "encoding": {"x": {"datum": 0.551, "type": "quantitative", "title": null}, "y": {"datum": 180.2, "type": "quantitative", "axis": null}, "text": {"field": "s", "type": "nominal"}}},
    {"data": {"values": [{"s": "AR (g/m²/a)"}]}, "mark": {"type": "text", "fontSize": 20, "align": "left", "baseline": "alphabetic"},
     "encoding": {"x": {"datum": 0.77, "type": "quantitative", "title": null}, "y": {"datum": 181.3, "type": "quantitative", "axis": null}, "text": {"field": "s", "type": "nominal"}}}
  ]
},
{
  "width": 200.6, "height": 737.7,
  "layer": [
    {"data": {"name": "phosfit"}, "transform": [{"filter": "datum.kind != 'fit'"}],
     "mark": {"type": "line", "stroke": "#000", "strokeWidth": 1.3, "strokeDash": [7, 5]},
     "encoding": {
       "x": {"field": "v", "type": "quantitative", "scale": {"domain": [0, 0.3], "nice": false, "zero": false},
             "axis": {"orient": "bottom", "offset": 8.3, "values": [0, 0.05, 0.1, 0.15, 0.2, 0.25, 0.3], "tickCount": 50, "labelOverlap": false, "labelExpr": "round(datum.value * 100) % 10 === 0 ? format(datum.value, '~g') : ''", "tickSize": 5, "labelPadding": 2, "title": "Phosphorus  AR (g/m²/a)", "titlePadding": 2}},
       "y": {"field": "t", "type": "quantitative", "scale": {"domain": [0, 198.8], "nice": false, "zero": false}, "axis": null},
       "detail": {"field": "kind", "type": "nominal"},
       "order": {"field": "t", "type": "quantitative"}
     }},
    {"data": {"name": "phosfit"}, "transform": [{"filter": "datum.kind == 'fit'"}],
     "mark": {"type": "line", "stroke": "#000", "strokeWidth": 1.3},
     "encoding": {"x": {"field": "v", "type": "quantitative"}, "y": {"field": "t", "type": "quantitative", "axis": null}, "order": {"field": "t", "type": "quantitative"}}},
    {"data": {"name": "phos"}, "mark": {"type": "line", "stroke": "#000", "strokeWidth": 1.4},
     "encoding": {"x": {"field": "v", "type": "quantitative"}, "y": {"field": "t", "type": "quantitative", "axis": null}, "order": {"field": "t", "type": "quantitative"}}},
    {"data": {"name": "phos"}, "mark": {"type": "circle", "fill": "#000", "opacity": 1, "size": 16},
     "encoding": {"x": {"field": "v", "type": "quantitative"}, "y": {"field": "t", "type": "quantitative", "axis": null}}}
  ]
},
{
  "width": 72.5, "height": 737.7,
  "layer": [
    {"data": {"name": "cp"}, "mark": {"type": "line", "stroke": "#000", "strokeWidth": 1.5},
     "encoding": {
       "x": {"field": "v", "type": "quantitative", "title": null, "scale": {"domain": [0, 106], "nice": false, "zero": false},
             "axis": {"orient": "top", "offset": -101.7, "values": [0, 10, 20, 30, 40, 50, 60, 70, 80, 90, 100], "tickCount": 50, "labelOverlap": false, "labelExpr": "datum.value % 50 === 0 ? datum.label : ''", "tickSize": 4, "labelPadding": 4, "title": null}},
       "y": {"field": "t", "type": "quantitative", "scale": {"domain": [0, 198.8], "nice": false, "zero": false}, "axis": null},
       "order": {"field": "t", "type": "quantitative"}
     }},
    {"data": {"name": "cp"}, "mark": {"type": "circle", "fill": "#000", "opacity": 1, "size": 24},
     "encoding": {"x": {"field": "v", "type": "quantitative", "title": null}, "y": {"field": "t", "type": "quantitative", "axis": null}}},
    {"data": {"values": [{}]}, "mark": {"type": "rule", "stroke": "#000", "strokeWidth": 1.3, "strokeDash": [8, 7]},
     "encoding": {"x": {"datum": 106, "type": "quantitative", "title": null}, "y": {"datum": 1.6, "type": "quantitative", "axis": null}, "y2": {"datum": 168.3}}},
    {"data": {"values": [{"s": "C"}]}, "mark": {"type": "text", "fontSize": 20, "align": "left", "baseline": "alphabetic"},
     "encoding": {"x": {"datum": -78.5, "type": "quantitative", "title": null}, "y": {"datum": 184.0, "type": "quantitative", "axis": null}, "text": {"field": "s", "type": "nominal"}}},
    {"data": {"values": [{"s": "org"}]}, "mark": {"type": "text", "fontSize": 12, "align": "left", "baseline": "alphabetic"},
     "encoding": {"x": {"datum": -57.5, "type": "quantitative", "title": null}, "y": {"datum": 182.9, "type": "quantitative", "axis": null}, "text": {"field": "s", "type": "nominal"}}},
    {"data": {"values": [{"s": "/P"}]}, "mark": {"type": "text", "fontSize": 20, "align": "left", "baseline": "alphabetic"},
     "encoding": {"x": {"datum": -31.7, "type": "quantitative", "title": null}, "y": {"datum": 184.0, "type": "quantitative", "axis": null}, "text": {"field": "s", "type": "nominal"}}},
    {"data": {"values": [{"s": "tot"}]}, "mark": {"type": "text", "fontSize": 12, "align": "left", "baseline": "alphabetic"},
     "encoding": {"x": {"datum": -3.9, "type": "quantitative", "title": null}, "y": {"datum": 182.9, "type": "quantitative", "axis": null}, "text": {"field": "s", "type": "nominal"}}},
    {"data": {"values": [{"s": "(molar ratio)"}]}, "mark": {"type": "text", "fontSize": 20, "align": "left", "baseline": "alphabetic"},
     "encoding": {"x": {"datum": 15.8, "type": "quantitative", "title": null}, "y": {"datum": 184.0, "type": "quantitative", "axis": null}, "text": {"field": "s", "type": "nominal"}}}
  ]
}
]
}
